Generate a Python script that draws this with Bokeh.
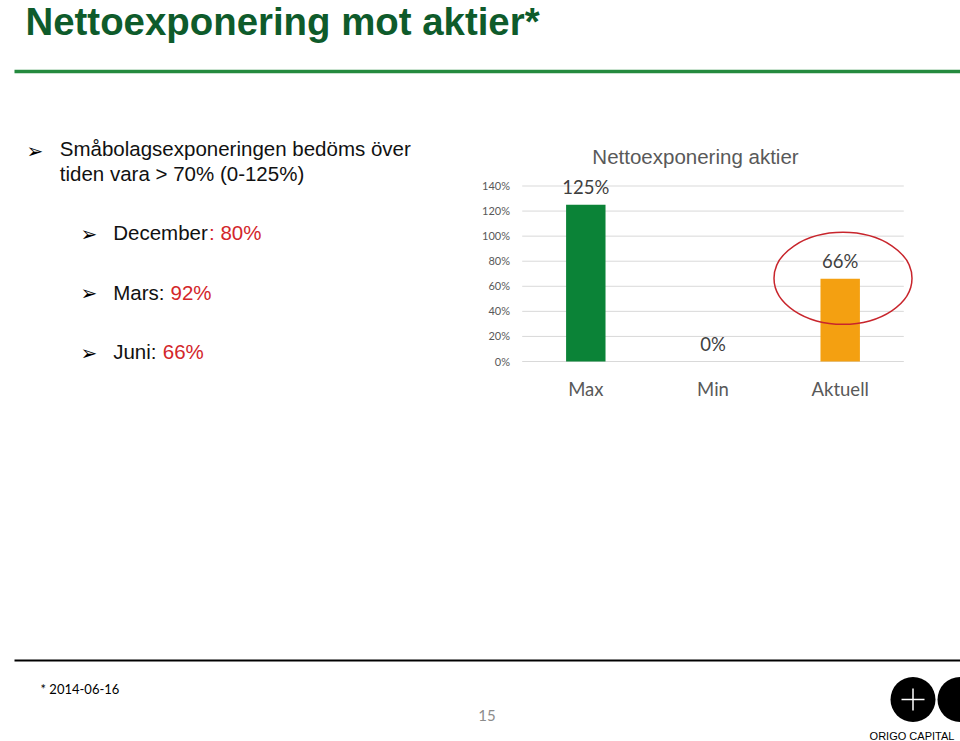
from bokeh.plotting import figure
from bokeh.models import Range1d
from bokeh.core.properties import value
from bokeh.embed import file_html
from bokeh.resources import INLINE

# ---------------- data ----------------
categories = ["Max", "Min", "Aktuell"]
exposure = [125, 0, 66]
exposure_labels = ["125%", "0%", "66%"]
bar_colors = ["#0B8337", "#0B8337", "#F4A011"]
y_ticks = [0, 20, 40, 60, 80, 100, 120, 140]
y_tick_labels = ["0%", "20%", "40%", "60%", "80%", "100%", "120%", "140%"]
chart_title = "Nettoexponering aktier"
slide_title = "Nettoexponering mot aktier*"
bullet_lines = ["Småbolagsexponeringen bedöms över", "tiden vara > 70% (0-125%)"]
sub_labels = ["December", "Mars:", "Juni:"]
sub_values = [": 80%", "92%", "66%"]
footnote = "* 2014-06-16"
page_number = "15"
logo_text = "ORIGO CAPITAL"

# ---------------- layout (pixels) ----------------
W, H = 960, 741
plot_left, plot_right = 521.7, 903.3
zero_px, top_px = 361.0, 185.5
y_max = y_ticks[-1]

n = len(categories)
cat_px = (plot_right - plot_left) / n
cx_start = -0.5 - plot_left / cat_px
cx_end = n - 0.5 + (W - plot_right) / cat_px
pct_px = (zero_px - top_px) / y_max
cy_start = -(H - zero_px) / pct_px
cy_end = zero_px / pct_px

p = figure(width=W, height=H, x_range=Range1d(0, W), y_range=Range1d(H, 0),
           output_backend="svg", toolbar_location=None, min_border=0,
           x_axis_location=None, y_axis_location=None)
p.grid.visible = False
p.outline_line_color = None
p.background_fill_color = "white"
p.border_fill_color = "white"
p.extra_x_ranges = {"cx": Range1d(cx_start, cx_end)}
p.extra_y_ranges = {"cy": Range1d(cy_start, cy_end)}

SANS = value("Liberation Sans")
CAL = value("Lato")
ARROW = value("DejaVu Sans")

# ---------------- slide header ----------------
p.text(x=[25], y=[21], text=[slide_title], text_font=SANS, text_font_style="bold",
       text_font_size="38.4px", text_color="#0E5B2B", text_baseline="middle")
p.segment(x0=[14], x1=[W], y0=[71], y1=[71], line_color="#248A3E", line_width=3.5)

# ---------------- bullets ----------------
p.text(x=[26], y=[150], text=["➢"], text_font=ARROW, text_font_size="20px",
       text_color="black", text_baseline="middle")
p.text(x=[59.3, 59.3], y=[147.5, 172.5], text=bullet_lines, text_font=SANS,
       text_font_size="20.5px", text_color="#111111", text_baseline="middle")
sub_mid = [232, 291.5, 351]
sub_val_x = [208.5, 170, 162.3]
p.text(x=[80] * 3, y=[m + 1 for m in sub_mid], text=["➢"] * 3,
       text_font=ARROW, text_font_size="20px", text_color="black",
       text_baseline="middle")
p.text(x=[112.7] * 3, y=sub_mid, text=sub_labels, text_font=SANS,
       text_font_size="20.5px", text_color="#111111", text_baseline="middle")
p.text(x=sub_val_x, y=sub_mid, text=sub_values, text_font=SANS,
       text_font_size="20.5px", text_color="#D3262A", text_baseline="middle")

# ---------------- chart ----------------
idx = list(range(n))
p.segment(x0=[-0.5] * len(y_ticks), x1=[n - 0.5] * len(y_ticks), y0=y_ticks, y1=y_ticks,
          x_range_name="cx", y_range_name="cy", line_color="#D9D9D9", line_width=1)
p.vbar(x=idx, top=exposure, bottom=0, width=0.31, fill_color=bar_colors, line_color=None,
       x_range_name="cx", y_range_name="cy")
p.text(x=idx, y=exposure, text=exposure_labels, x_range_name="cx", y_range_name="cy",
       text_align="center", text_baseline="middle", y_offset=-17.5,
       text_font=CAL, text_font_size="18.5px", text_color="#404040")
p.text(x=idx, y=[0] * n, text=categories, x_range_name="cx", y_range_name="cy",
       text_align="center", text_baseline="middle", y_offset=27.5,
       text_font=CAL, text_font_size="18.5px", text_color="#595959")
p.text(x=[509.5] * len(y_ticks), y=y_ticks, text=y_tick_labels, y_range_name="cy",
       text_align="right", text_baseline="middle", y_offset=-0.5,
       text_font=CAL, text_font_size="11px", text_color="#595959")
p.text(x=[695], y=[156], text=[chart_title], text_align="center", text_baseline="middle",
       text_font=SANS, text_font_size="20.5px", text_color="#595959")
p.ellipse(x=[842.5], y=[277.8], width=[138], height=[92], fill_color=None,
          line_color="#C8252C", line_width=1.5)

# ---------------- footer ----------------
p.segment(x0=[14], x1=[W], y0=[660], y1=[660], line_color="black", line_width=2)
p.text(x=[40], y=[688], text=[footnote], text_font=CAL, text_font_size="13px",
       text_color="black", text_baseline="middle")
p.text(x=[486.5], y=[715], text=[page_number], text_font=CAL, text_font_size="15px",
       text_color="#8C8C8C", text_baseline="middle", text_align="center")
p.circle(x=[912.5, 959.5], y=[699, 699], radius=22.5, fill_color="black", line_color=None)
p.segment(x0=[901, 912.5], x1=[924, 912.5], y0=[699, 688], y1=[699, 710],
          line_color="white", line_width=1.5)
p.text(x=[911.5], y=[735], text=[logo_text], text_font=SANS, text_font_size="11px",
       text_color="black", text_baseline="middle", text_align="center")

open("out.html", "w").write(file_html(p, INLINE))
